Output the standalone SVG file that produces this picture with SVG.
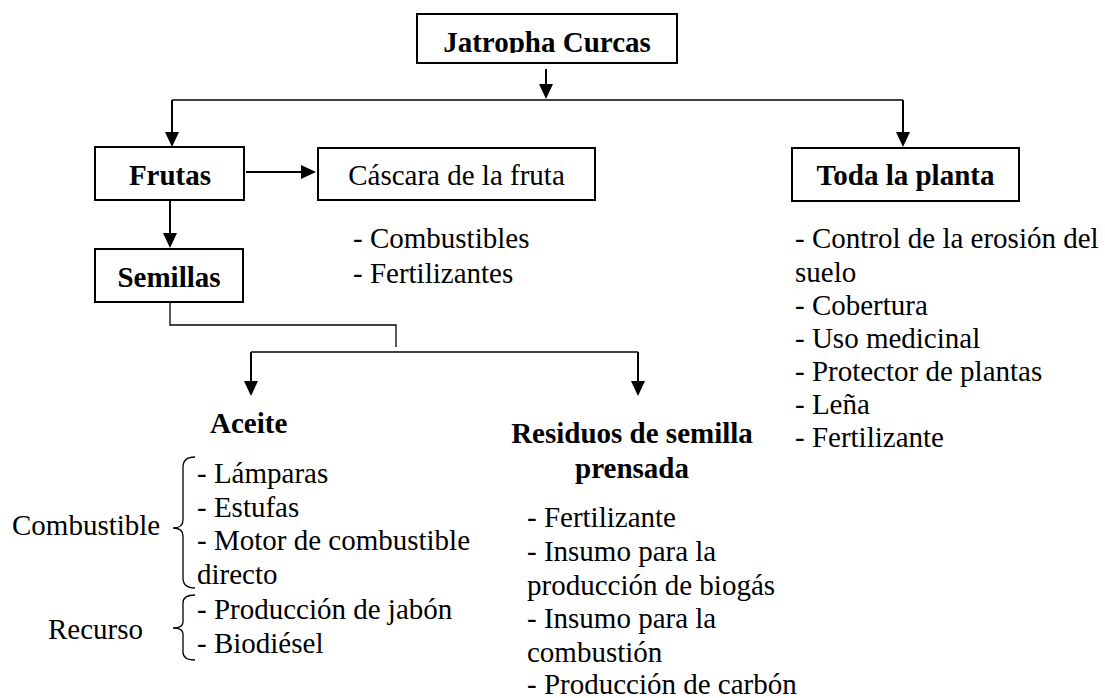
<svg xmlns="http://www.w3.org/2000/svg" width="1105" height="698" viewBox="0 0 1105 698" font-family="'Liberation Serif', 'DejaVu Serif', serif">
<style>
  text { font-family: 'Liberation Serif', 'DejaVu Serif', serif; font-size: 29px; fill: #000; }
  .b { font-weight: bold; }
  .c { text-anchor: middle; }
  .box { fill: #fff; stroke: #000; stroke-width: 2; }
  .thick { fill: none; stroke: #000; stroke-width: 2; }
  .thin { fill: none; stroke: #000; stroke-width: 1.3; }
</style>
<defs>
  <marker id="ah" viewBox="0 0 15 14" refX="0" refY="7" markerWidth="15" markerHeight="14" markerUnits="userSpaceOnUse" orient="auto">
    <path d="M0,0 L15,7 L0,14 z" fill="#000"/>
  </marker>
  <clipPath id="clipTop"><rect x="417" y="14" width="260" height="39"/></clipPath>
</defs>
<rect width="1105" height="698" fill="#fff"/>

<g id="connectors">
  <line class="thick" x1="546" y1="69" x2="546" y2="84" marker-end="url(#ah)"/>
  <path class="thin" d="M172,100 H903"/>
  <line class="thick" x1="172" y1="100" x2="172" y2="132" marker-end="url(#ah)"/>
  <line class="thick" x1="903" y1="100" x2="903" y2="132" marker-end="url(#ah)"/>
  <line class="thick" x1="246" y1="172" x2="301" y2="172" marker-end="url(#ah)"/>
  <line class="thick" x1="170" y1="201" x2="170" y2="233" marker-end="url(#ah)"/>
  <path class="thin" d="M170,303 V325 H396 V347"/>
  <path class="thin" d="M251,352 H638"/>
  <line class="thick" x1="251" y1="352" x2="251" y2="381" marker-end="url(#ah)"/>
  <line class="thick" x1="638" y1="352" x2="638" y2="381" marker-end="url(#ah)"/>
  <path class="thin" d="M195,457 Q183,457 183,467 L183,520 Q183,528 173,528 Q183,528 183,536 L183,578 Q183,588 195,588"/>
  <path class="thin" d="M195,595 Q183,595 183,603 L183,622 Q183,628 173,628 Q183,628 183,634 L183,652 Q183,660 195,660"/>
</g>

<g id="jatropha">
  <rect class="box" x="417" y="14" width="260" height="49"/>
  <text class="b c" x="547" y="52" clip-path="url(#clipTop)">Jatropha Curcas</text>
</g>

<g id="frutas">
  <rect class="box" x="95" y="147" width="149" height="53"/>
  <text class="b c" x="170" y="185">Frutas</text>
</g>

<g id="cascara">
  <rect class="box" x="318" y="148" width="277" height="52"/>
  <text class="c" x="456.5" y="185">Cáscara de la fruta</text>
</g>

<g id="cascara-usos">
  <text x="353" y="248">- Combustibles</text>
  <text x="353" y="283">- Fertilizantes</text>
</g>

<g id="toda">
  <rect class="box" x="792" y="148" width="227" height="53"/>
  <text class="b c" x="905.5" y="185">Toda la planta</text>
</g>

<g id="toda-usos">
  <text x="795" y="248">- Control de la erosión del</text>
  <text x="795" y="282">suelo</text>
  <text x="795" y="315">- Cobertura</text>
  <text x="795" y="348">- Uso medicinal</text>
  <text x="795" y="381">- Protector de plantas</text>
  <text x="795" y="414">- Leña</text>
  <text x="795" y="447">- Fertilizante</text>
</g>

<g id="semillas">
  <rect class="box" x="95" y="249" width="148" height="53"/>
  <text class="b c" x="169" y="287">Semillas</text>
</g>

<g id="aceite">
  <text class="b" x="210" y="433">Aceite</text>
  <text x="197" y="483">- Lámparas</text>
  <text x="197" y="517">- Estufas</text>
  <text x="197" y="550">- Motor de combustible</text>
  <text x="197" y="584">directo</text>
  <text x="197" y="619">- Producción de jabón</text>
  <text x="197" y="653">- Biodiésel</text>
</g>

<g id="combustible-label">
  <text x="12" y="535">Combustible</text>
</g>

<g id="recurso-label">
  <text x="48" y="639">Recurso</text>
</g>

<g id="residuos">
  <text class="b c" x="632" y="443">Residuos de semilla</text>
  <text class="b c" x="632" y="478">prensada</text>
  <text x="527" y="527">- Fertilizante</text>
  <text x="527" y="561">- Insumo para la</text>
  <text x="527" y="595">producción de biogás</text>
  <text x="527" y="628">- Insumo para la</text>
  <text x="527" y="662">combustión</text>
  <text x="527" y="694">- Producción de carbón</text>
</g>
</svg>
